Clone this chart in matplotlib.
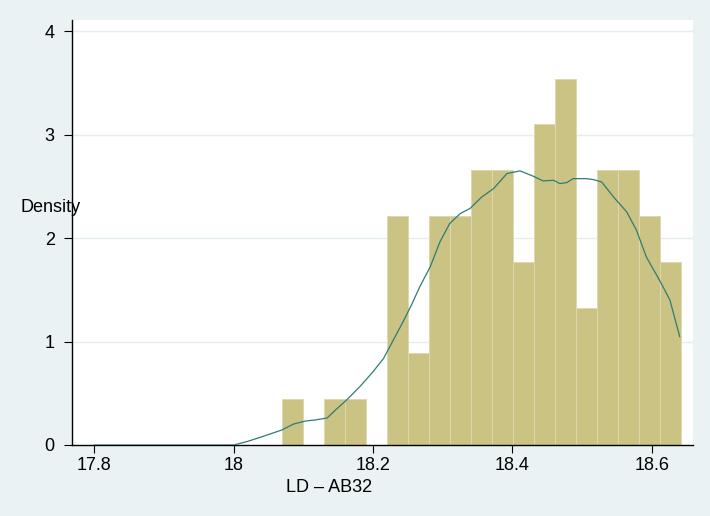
import numpy as np
import matplotlib.pyplot as plt

plt.rcParams["font.family"] = ["Liberation Sans", "DejaVu Sans"]

# histogram: 19 bins of width ~0.0301 starting at 18.070, counts per bin
bin_start = 18.070
bin_width = 0.0301
counts = [1, 0, 1, 1, 0, 5, 2, 5, 5, 6, 6, 4, 7, 8, 3, 6, 6, 5, 4]

# kernel density estimate, read off at a set of points
kde_x = [17.80, 18.00, 18.020, 18.038, 18.052, 18.069, 18.086, 18.103, 18.117,
         18.134, 18.146, 18.162, 18.181, 18.200, 18.215, 18.229, 18.243, 18.255,
         18.267, 18.282, 18.296, 18.310, 18.325, 18.339, 18.356, 18.373, 18.392,
         18.411, 18.430, 18.444, 18.459, 18.468, 18.478, 18.487, 18.506, 18.516,
         18.528, 18.545, 18.564, 18.578, 18.592, 18.611, 18.626, 18.640]
kde_y = [0.0, 0.0, 0.035, 0.074, 0.106, 0.145, 0.203, 0.232, 0.242,
         0.261, 0.338, 0.435, 0.564, 0.709, 0.837, 1.014, 1.192, 1.353,
         1.530, 1.723, 1.965, 2.142, 2.238, 2.287, 2.399, 2.480, 2.625,
         2.651, 2.599, 2.554, 2.560, 2.528, 2.538, 2.576, 2.576, 2.567,
         2.544, 2.399, 2.254, 2.077, 1.820, 1.594, 1.401, 1.047]

x_ticks = [17.8, 18.0, 18.2, 18.4, 18.6]
x_tick_labels = ["17.8", "18", "18.2", "18.4", "18.6"]
y_ticks = [0, 1, 2, 3, 4]

BG = "#EAF2F3"
BAR = "#CBC383"
LINE = "#2F7B78"

fig = plt.figure(figsize=(7.10, 5.16), dpi=100, facecolor=BG)
ax = fig.add_axes([0.1014, 0.1376, 0.8746, 0.8236])
ax.set_facecolor("white")

counts = np.array(counts, dtype=float)
n = counts.sum()
density = counts / (n * bin_width)
lefts = bin_start + bin_width * np.arange(len(counts))

for yv in y_ticks[1:]:
    ax.axhline(yv, color="#E4EDEF", lw=1.0, zorder=0)

ax.bar(lefts, density, width=bin_width, align="edge", color=BAR,
       edgecolor="#DDD8AE", linewidth=0.7, zorder=2)
ax.plot(kde_x, kde_y, color=LINE, lw=0.9, zorder=3)

ax.set_xlim(17.768, 18.659)
ax.set_ylim(0, 4.11)
ax.set_xticks(x_ticks)
ax.set_xticklabels(x_tick_labels)
ax.set_yticks(y_ticks)
ax.tick_params(axis="both", direction="out", length=5.5, width=0.8,
               labelsize=13, colors="black")
ax.tick_params(axis="x", pad=3)
ax.tick_params(axis="y", pad=7)

for side in ("top", "right"):
    ax.spines[side].set_visible(False)
for side in ("left", "bottom"):
    ax.spines[side].set_linewidth(1.0)
    ax.spines[side].set_color("black")

fig.text(51 / 710, 1 - 208 / 516, "Density", fontsize=13,
         ha="center", va="center")
fig.text(329 / 710, 1 - 487 / 516, "LD \u2013 AB32", fontsize=13,
         ha="center", va="center")

fig.savefig("out.png", dpi=100, facecolor=BG)
